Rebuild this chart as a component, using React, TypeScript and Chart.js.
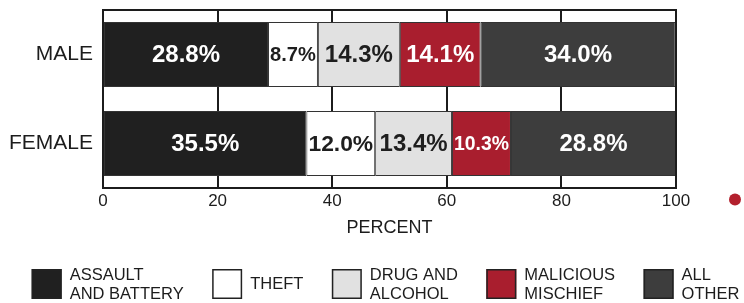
import React, { useEffect, useRef } from 'react';
import { Chart, registerables } from 'chart.js';

Chart.register(...registerables);

// ---- data ----
const categories = ['MALE', 'FEMALE'];
const seriesNames = ['ASSAULT AND BATTERY', 'THEFT', 'DRUG AND ALCOHOL', 'MALICIOUS MISCHIEF', 'ALL OTHER'];
const legendLines = [['ASSAULT', 'AND BATTERY'], ['THEFT'], ['DRUG AND', 'ALCOHOL'], ['MALICIOUS', 'MISCHIEF'], ['ALL', 'OTHER']];
const assaultAndBattery = [28.8, 35.5];
const theft = [8.7, 12.0];
const drugAndAlcohol = [14.3, 13.4];
const maliciousMischief = [14.1, 10.3];
const allOther = [34.0, 28.8];
const xTickValues = [0, 20, 40, 60, 80, 100];
const axisTitle = 'PERCENT';

// ---- styles ----
const seriesColors = ['#202020', '#ffffff', '#e1e1e1', '#a91e2e', '#3d3d3d'];
const labelColors = ['#ffffff', '#1e1e1e', '#1e1e1e', '#ffffff', '#ffffff'];
const FONT = '"Liberation Sans", Arial, Helvetica, sans-serif';
const INK = '#1c1c1c';

const segLabelPlugin = {
  id: 'segLabels',
  afterDatasetsDraw(chart: any) {
    const ctx = chart.ctx;
    ctx.save();
    chart.data.datasets.forEach((ds: any, i: number) => {
      const meta = chart.getDatasetMeta(i);
      meta.data.forEach((bar: any, j: number) => {
        const v = ds.data[j];
        const text = v.toFixed(1) + '%';
        const { x, base, y } = bar.getProps(['x', 'base', 'y'], true);
        const w = Math.abs(x - base);
        let size = 24;
        ctx.font = `bold ${size}px ${FONT}`;
        const tw = ctx.measureText(text).width;
        if (tw > w - 4) {
          size = (size * (w - 4)) / tw;
          ctx.font = `bold ${size}px ${FONT}`;
        }
        ctx.fillStyle = labelColors[i];
        ctx.textAlign = 'center';
        ctx.textBaseline = 'middle';
        ctx.fillText(text, (x + base) / 2, y + 1);
      });
    });
    ctx.restore();
  },
};

const framePlugin = {
  id: 'frame',
  afterDatasetsDraw(chart: any) {
    const { ctx, chartArea } = chart;
    ctx.save();
    ctx.strokeStyle = INK;
    ctx.lineWidth = 2;
    ctx.strokeRect(chartArea.left, chartArea.top, chartArea.right - chartArea.left, chartArea.bottom - chartArea.top);
    ctx.restore();
  },
};

const legendPlugin = {
  id: 'customLegend',
  afterDraw(chart: any) {
    const { ctx, chartArea } = chart;
    const box = 30;
    const gapText = 8;
    const gapItem = 28.5;
    const lineH = 19;
    ctx.save();
    ctx.font = `16.5px ${FONT}`;
    const widths = legendLines.map((lines) => box + gapText + Math.max(...lines.map((l) => ctx.measureText(l).width)));
    const total = widths.reduce((a, b) => a + b, 0) + gapItem * (widths.length - 1);
    let x = (chartArea.left + chartArea.right) / 2 - 4 - total / 2;
    const top = chart.height - 34;
    const cy = top + box / 2 + 0.5;
    legendLines.forEach((lines, i) => {
      ctx.fillStyle = seriesColors[i];
      ctx.fillRect(x, top, box, box);
      ctx.strokeStyle = '#222';
      ctx.lineWidth = 1.5;
      ctx.strokeRect(x + 0.75, top + 0.75, box - 1.5, box - 1.5);
      ctx.fillStyle = INK;
      ctx.textAlign = 'left';
      ctx.textBaseline = 'middle';
      const n = lines.length;
      lines.forEach((l, k) => {
        ctx.fillText(l, x + box + gapText, cy + (k - (n - 1) / 2) * lineH);
      });
      x += widths[i] + gapItem;
    });
    // small red bullet at right of axis
    ctx.fillStyle = '#b3202d';
    ctx.beginPath();
    ctx.arc(chartArea.right + 59, chartArea.bottom + 11.5, 6, 0, Math.PI * 2);
    ctx.fill();
    ctx.restore();
  },
};

export default function App() {
  const ref = useRef<HTMLCanvasElement | null>(null);
  useEffect(() => {
    if (!ref.current) return;
    const seriesData = [assaultAndBattery, theft, drugAndAlcohol, maliciousMischief, allOther];
    const chart = new Chart(ref.current, {
      type: 'bar',
      data: {
        labels: categories,
        datasets: seriesNames.map((name, i) => ({
          label: name,
          data: seriesData[i],
          backgroundColor: seriesColors[i],
          borderColor: '#333333',
          borderWidth: 1,
          borderSkipped: false,
          categoryPercentage: 1,
          barPercentage: 0.73,
        })),
      },
      options: {
        indexAxis: 'y',
        animation: false,
        responsive: true,
        maintainAspectRatio: false,
        layout: { padding: { top: 10, bottom: 64, right: 68, left: 0 } },
        plugins: { legend: { display: false }, tooltip: { enabled: false } },
        scales: {
          x: {
            stacked: true,
            min: 0,
            max: 100,
            afterBuildTicks: (s: any) => {
              s.ticks = xTickValues.map((v) => ({ value: v }));
            },
            afterFit: (s: any) => {
              s.height = 51;
              s.paddingLeft = 0;
              s.paddingRight = 0;
            },
            ticks: { color: INK, font: { family: FONT, size: 17 }, padding: 3 },
            grid: { color: INK, lineWidth: 2, drawTicks: false },
            border: { display: false },
            title: { display: true, text: axisTitle, color: INK, font: { family: FONT, size: 18 }, padding: { top: 0, bottom: 0 } },
          },
          y: {
            stacked: true,
            afterFit: (s: any) => {
              s.width = 103;
              s.paddingTop = 0;
              s.paddingBottom = 0;
            },
            ticks: { color: INK, font: { family: FONT, size: 21 }, padding: 10 },
            grid: { display: false, drawTicks: false },
            border: { display: false },
          },
        },
      },
      plugins: [segLabelPlugin, framePlugin, legendPlugin],
    });
    return () => chart.destroy();
  }, []);
  return (
    <div style={{ position: 'absolute', left: 0, top: 0, width: 744, height: 303 }}>
      <canvas ref={ref} />
    </div>
  );
}
